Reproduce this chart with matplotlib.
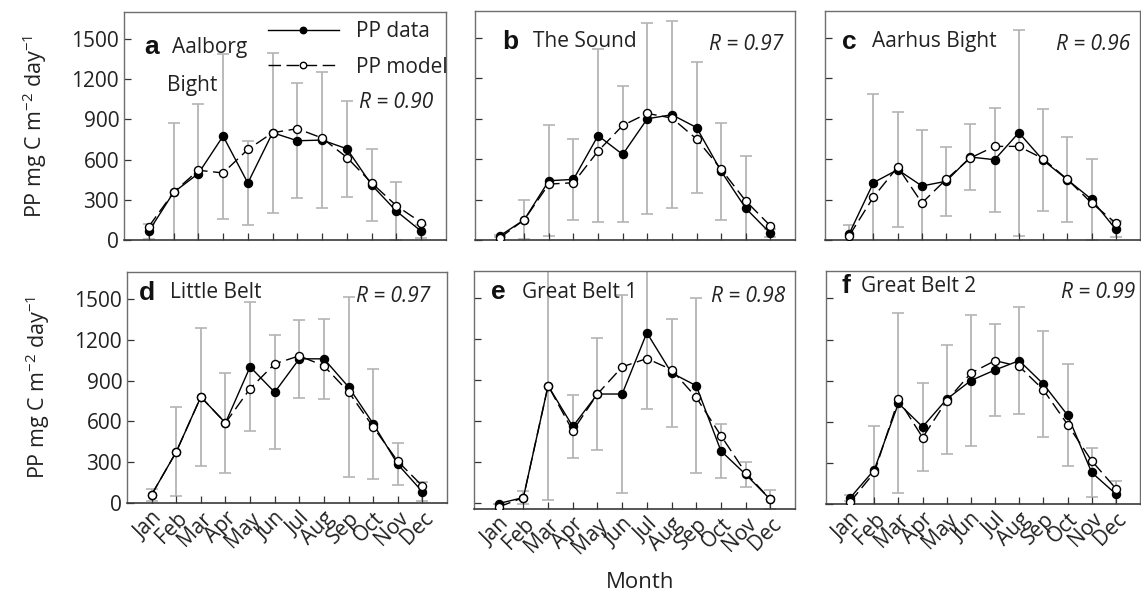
import matplotlib
matplotlib.use("Agg")
import matplotlib.pyplot as plt

# ---------------- data ----------------
months = ['Jan', 'Feb', 'Mar', 'Apr', 'May', 'Jun', 'Jul', 'Aug', 'Sep', 'Oct', 'Nov', 'Dec']

a_data = [65, 355, 495, 775, 425, 800, 740, 745, 680, 410, 215, 65]
a_model = [100, 355, 520, 500, 675, 800, 830, 760, 615, 425, 255, 130]
a_sd = [55, 515, 520, 615, 315, 598, 430, 510, 358, 268, 215, 50]

b_data = [30, 150, 440, 450, 775, 635, 900, 930, 835, 510, 235, 50]
b_model = [15, 150, 415, 425, 660, 850, 940, 905, 750, 525, 290, 105]
b_sd = [10, 145, 410, 300, 640, 505, 708, 693, 484, 361, 390, 30]

c_data = [47, 426, 522, 401, 436, 616, 596, 797, 592, 448, 302, 79]
c_model = [32, 319, 542, 275, 450, 609, 695, 695, 604, 450, 275, 126]
c_sd = [67, 656, 425, 413, 255, 248, 385, 765, 380, 313, 299, 60]

d_data = [61, 376, 781, 589, 1002, 815, 1061, 1061, 854, 584, 285, 83]
d_model = [61, 376, 781, 589, 842, 1024, 1083, 1009, 818, 560, 307, 125]
d_sd = [45, 328, 507, 368, 474, 420, 286, 294, 665, 404, 153, 68]

e_data = [-5, 39, 859, 560, 798, 798, 1247, 953, 859, 381, 209, 25]
e_model = [-30, 39, 859, 528, 798, 997, 1058, 977, 773, 493, 221, 25]
e_sd = [0, 50, 840, 230, 411, 726, 557, 398, 640, 200, 92, 68]

f_data = [45, 250, 735, 563, 765, 901, 978, 1046, 875, 649, 230, 73]
f_model = [15, 230, 764, 485, 754, 955, 1046, 1004, 833, 580, 315, 113]
f_sd = [24, 316, 655, 322, 397, 478, 333, 390, 389, 370, 179, 94]

letters = ['a', 'b', 'c', 'd', 'e', 'f']
names = ['Aalborg', 'The Sound', 'Aarhus Bight', 'Little Belt', 'Great Belt 1', 'Great Belt 2']
r_values = ['0.90', '0.97', '0.96', '0.97', '0.98', '0.99']
yticks = [0, 300, 600, 900, 1200, 1500]

series = [(a_data, a_model, a_sd), (b_data, b_model, b_sd), (c_data, c_model, c_sd),
          (d_data, d_model, d_sd), (e_data, e_model, e_sd), (f_data, f_model, f_sd)]

# ---------------- style ----------------
plt.rcParams['font.family'] = ['Open Sans', 'DejaVu Sans']
plt.rcParams['mathtext.fontset'] = 'custom'
plt.rcParams['mathtext.rm'] = 'Open Sans'
plt.rcParams['mathtext.it'] = 'Open Sans:italic'

FS = 15
TXT = '#222222'
W, H = 1141, 598
fig = plt.figure(figsize=(W / 100, H / 100), dpi=100)

# pixel boxes: left, right, top, bottom
boxes = [(124, 446, 12, 240), (475, 795, 11, 240), (825, 1140, 11, 240),
         (127, 447, 272, 503), (474, 795, 271, 509), (826, 1140, 271, 504)]
ylims = [(0, 1700), (0, 1700), (0, 1700), (0, 1700), (-45, 1700), (0, 1700)]
letter_dx = [20, 27, 17, 12, 17, 15]
name_dx = [48, 58, 47, 43, 48, 35]
title_dy = [35, 31, 31, 21, 21, 15]
r_dx = [13, 12, 10, 17, 10, 5]
r_dy = [90, 34, 34, 25, 26, 22]

x = list(range(1, 13))

for i, (box, (dat, mod, sd)) in enumerate(zip(boxes, series)):
    l, r, t, b = box
    pw, ph = r - l, b - t
    ax = fig.add_axes([l / W, 1 - b / H, pw / W, ph / H])
    ax.errorbar(x, dat, yerr=sd, fmt='none', ecolor='#b4b4b4', elinewidth=1.3,
                capsize=4, capthick=1.2, zorder=1)
    ax.plot(x, dat, '-', color='black', lw=1.0, marker='o', ms=5.8,
            mfc='black', mec='black', zorder=3, label='PP data')
    ax.plot(x, mod, color='black', lw=1.0, dashes=(9, 4), marker='o', ms=5.8,
            mfc='white', mec='black', mew=1.0, zorder=4, label='PP model')
    ax.set_xlim(0, 13)
    ax.set_ylim(*ylims[i])
    ax.set_yticks(yticks)
    ax.set_xticks(x)
    ax.tick_params(direction='in', length=5, width=0.9, colors='#333333',
                   labelsize=FS, labelcolor=TXT)
    if i in (0, 3):
        ax.set_yticklabels([str(v) for v in yticks])
        ax.set_ylabel(r'PP mg C m$^{\mathregular{-2}}$ day$^{\mathregular{-1}}$',
                      fontsize=FS + 0.5, color=TXT, labelpad=16)
    else:
        ax.set_yticklabels([])
    if i >= 3:
        ax.set_xticklabels(months, rotation=45, ha='right', rotation_mode='anchor',
                           fontsize=FS)
    else:
        ax.set_xticklabels([])
    for s in ['left', 'right', 'top']:
        ax.spines[s].set_color('#6e6e6e')
        ax.spines[s].set_linewidth(1.0)
    ax.spines['bottom'].set_color('#3a3a3a')
    ax.spines['bottom'].set_linewidth(1.2)

    ax.text(letter_dx[i] / pw, 1 - title_dy[i] / ph, letters[i], transform=ax.transAxes,
            fontsize=19, fontweight='bold', family=['Liberation Sans', 'DejaVu Sans'],
            va='center', ha='left', color='#111111')
    ax.text(name_dx[i] / pw, 1 - title_dy[i] / ph, names[i], transform=ax.transAxes,
            fontsize=FS, va='center', ha='left', color=TXT)
    if i == 0:
        ax.text((name_dx[i] - 5) / pw, 1 - (title_dy[i] + 38) / ph, 'Bight',
                transform=ax.transAxes, fontsize=FS, va='center', ha='left', color=TXT)
        ax.legend(loc='upper left', bbox_to_anchor=((268 - l) / pw, 1 - 9 / ph),
                  frameon=False, fontsize=FS, handlelength=3.4, handletextpad=0.8,
                  labelspacing=0.7, borderpad=0, borderaxespad=0, markerscale=0.8,
                  labelcolor=TXT)
    ax.text(1 - r_dx[i] / pw, 1 - r_dy[i] / ph, 'R = ' + r_values[i], transform=ax.transAxes,
            fontsize=FS, style='italic', ha='right', va='center', color=TXT)

fig.text(640 / W, 1 - 583 / H, 'Month', fontsize=FS + 1, ha='center', va='center', color=TXT)

fig.savefig('out.png', dpi=100)
